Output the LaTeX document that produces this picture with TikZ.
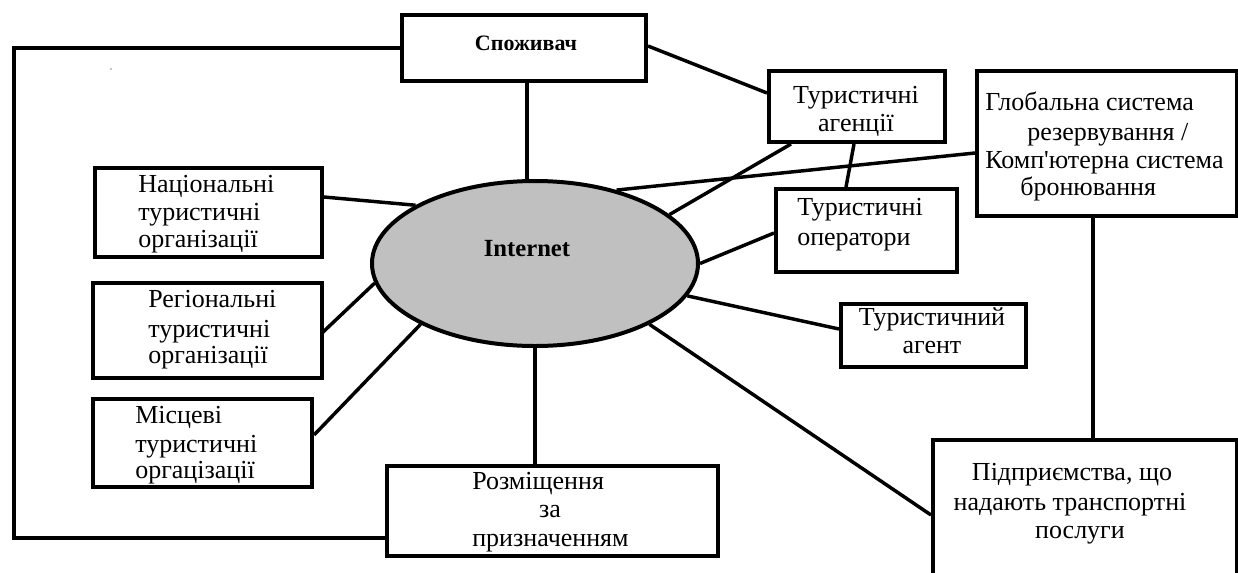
\documentclass[tikz,border=0pt]{standalone}
\usepackage{fontspec}
\setmainfont{Liberation Serif}[Ligatures=TeXOff]
\usetikzlibrary{shapes.geometric,calc}
\begin{document}
\begin{tikzpicture}[x=0.75pt,y=-0.75pt,
  box/.style 2 args={draw,line width=3pt,rectangle,inner sep=0pt,
    minimum width=#1*0.75pt,minimum height=#2*0.75pt},
  link/.style={line width=2.6pt},
  lbl/.style={font=\fontsize{19.5pt}{22pt}\selectfont,inner sep=0pt,anchor=base west},
  clbl/.style={lbl,anchor=base},
  blbl/.style={inner sep=0pt,anchor=base,font=\bfseries\fontsize{#1}{#1}\selectfont},
]
\useasboundingbox (0,0) rectangle (1238,572);
\clip (0,0) rectangle (1238,572);

% central ellipse
\node[ellipse,draw,line width=3pt,fill={rgb,255:red,192;green,192;blue,192},
  inner sep=0pt,minimum width=326*0.75pt,minimum height=165*0.75pt] (ell) at (535,263.5) {};
\node[blbl=18.5pt] (inet) at (527,256) {Internet};

% boxes
\node[box={244}{66}]  (cons)  at (524,48) {};
\node[box={176}{71}]  (agen)  at (857,106.5) {};
\node[box={260}{145}] (glob)  at (1107,143.5) {};
\node[box={181}{83}]  (oper)  at (866.5,230.5) {};
\node[box={185}{63}]  (agent) at (933.5,335.5) {};
\node[box={304}{140}] (pidp)  at (1085,510) {};
\node[box={227}{89}]  (nat)   at (208.5,212.5) {};
\node[box={229}{95}]  (reg)   at (207.5,330.5) {};
\node[box={219}{88}]  (loc)   at (202.5,443) {};
\node[box={331}{90}]  (rozm)  at (552.5,511) {};

% labels
\node[blbl=16.5pt] (tcons) at (526,50) {Споживач};
\node[clbl] (ta1) at (856,103) {Туристичні};
\node[clbl] (ta2) at (856,131) {агенції};
\node[lbl] (tg1) at (985,110) {Глобальна система};
\node[lbl] (tg2) at (1027,140) {резервування /};
\node[lbl] (tg3) at (985,168) {Комп'ютерна система};
\node[lbl] (tg4) at (1020,195) {бронювання};
\node[lbl] (to1) at (797,215) {Туристичні};
\node[lbl] (to2) at (797,245) {оператори};
\node[clbl] (tt1) at (932,325) {Туристичний};
\node[clbl] (tt2) at (932,353) {агент};
\node[clbl] (tp1) at (1072,480) {Підприємства, що};
\node[clbl] (tp2) at (1070,510) {надають транспортні};
\node[clbl] (tp3) at (1080,538) {послуги};
\node[lbl] (tn1) at (138,192) {Національні};
\node[lbl] (tn2) at (138,220) {туристичні};
\node[lbl] (tn3) at (138,247) {організації};
\node[lbl] (tr1) at (148,307) {Регіональні};
\node[lbl] (tr2) at (148,337) {туристичні};
\node[lbl] (tr3) at (148,363) {організації};
\node[lbl] (tl1) at (135,423) {Місцеві};
\node[lbl] (tl2) at (135,452) {туристичні};
\node[lbl] (tl3) at (135,478) {оргацізації};
\node[lbl] (tz1) at (472,489) {Розміщення};
\node[clbl] (tz2) at (550,517) {за};
\node[lbl] (tz3) at (472,546) {призначенням};

% stray dot
\fill (111,69) circle (0.6);

% connectors
\coordinate (lt) at (14,48);
\coordinate (lb) at (14,538);
\draw[link] (cons.west) -- (lt) -- (lb) -- (rozm.west |- lb);
\draw[link] ($(cons.south)+(3,0)$) -- ($(ell.north)+(-8,1)$);
\draw[link] ($(cons.east)+(0,-2)$) -- ($(agen.west)+(0,-13.5)$);
\draw[link] ($(agen.south west)+(24,0)$) -- (ell.20.5);
\draw[link] ($(agen.south west)+(87,0)$) -- ($(oper.north west)+(72,0)$);
\draw[link] ($(glob.west)+(0,9.5)$) -- (ell.42.5);
\draw[link] (ell.0.5) -- ($(oper.west)+(0,2.5)$);
\draw[link] (ell.-12) -- ($(agent.west)+(0,-6.5)$);
\draw[link] (ell.-28) -- ($(pidp.north west)+(0,77)$);
\draw[link] (ell.south) -- (ell.south |- rozm.north);
\draw[link] (ell.208.6) -- ($(loc.east)+(0,-8)$);
\draw[link] (ell.187) -- ($(reg.east)+(-2,2.5)$);
\draw[link] (ell.154) -- ($(nat.east)+(0,-15.5)$);
\draw[link] ($(glob.south west)+(118,0)$) coordinate (gs) -- (gs |- pidp.north);
\end{tikzpicture}
\end{document}
